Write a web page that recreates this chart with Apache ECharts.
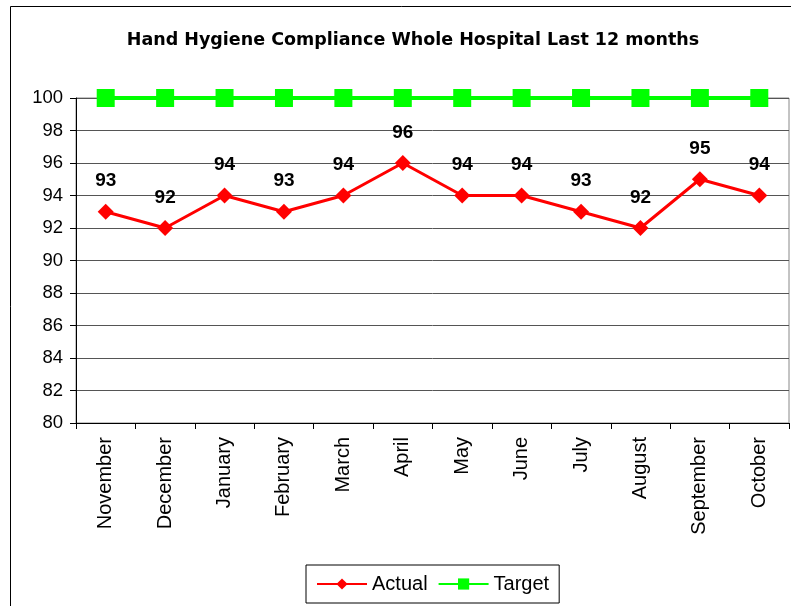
<!DOCTYPE html>
<html><head><meta charset="utf-8">
<script src="https://cdn.jsdelivr.net/npm/echarts@6/dist/echarts.min.js"></script>
<style>html,body{margin:0;padding:0;background:#fff}#c{width:791px;height:606px}</style>
</head><body><div id="c"></div>
<script>
const categories = ['November','December','January','February','March','April','May','June','July','August','September','October'];
const actual = [93,92,94,93,94,96,94,94,93,92,95,94];
const target = [100,100,100,100,100,100,100,100,100,100,100,100];
const yTicks = [80,82,84,86,88,90,92,94,96,98,100];

const chart = echarts.init(document.getElementById('c'));
chart.setOption({
  animation:false,
  backgroundColor:'#fff',
  graphic:[{type:'rect',shape:{x:10.5,y:6.5,width:800,height:700},style:{fill:'none',stroke:'#000',lineWidth:1},silent:true,z:-1}],
  title:{text:'Hand Hygiene Compliance Whole Hospital Last 12 months',left:408,top:26,textAlign:'center',
    textStyle:{fontFamily:'DejaVu Sans',fontWeight:'bold',fontSize:17.5,color:'#000'}},
  grid:{left:76,right:2,top:98,bottom:183,containLabel:false,show:true,borderColor:'#888',borderWidth:1},
  legend:{data:['Actual','Target'],left:306,top:565,width:253,height:38,padding:[9,10],itemGap:10,itemWidth:50,itemHeight:14,
    borderColor:'#000',borderWidth:1,textStyle:{fontFamily:'Liberation Sans',fontSize:20,color:'#000'}},
  xAxis:{type:'category',data:categories,boundaryGap:true,
    axisLine:{lineStyle:{color:'#000',width:1}},
    axisTick:{show:true,length:6,lineStyle:{color:'#000'}},
    axisLabel:{rotate:90,fontFamily:'Liberation Sans',fontSize:20,color:'#000',margin:14}},
  yAxis:{type:'value',min:80,max:100,interval:2,
    axisLine:{show:true,lineStyle:{color:'#000'}},
    axisTick:{show:true,length:6,lineStyle:{color:'#000'}},
    splitLine:{lineStyle:{color:'#555',width:1}},
    axisLabel:{fontFamily:'Liberation Sans',fontSize:18.5,color:'#000',margin:13,
      formatter:v=>yTicks.includes(v)?String(v):''}},
  series:[
    {name:'Actual',type:'line',data:actual,symbol:'diamond',symbolSize:16,
      lineStyle:{color:'#ff0000',width:3},itemStyle:{color:'#ff0000'},
      label:{show:true,position:'top',distance:13,fontFamily:'Liberation Sans',fontWeight:'bold',fontSize:19,color:'#000'},z:3},
    {name:'Target',type:'line',data:target,symbol:'rect',symbolSize:18,
      lineStyle:{color:'#00ff00',width:4},itemStyle:{color:'#00ff00'},z:2}
  ]
});
</script></body></html>
